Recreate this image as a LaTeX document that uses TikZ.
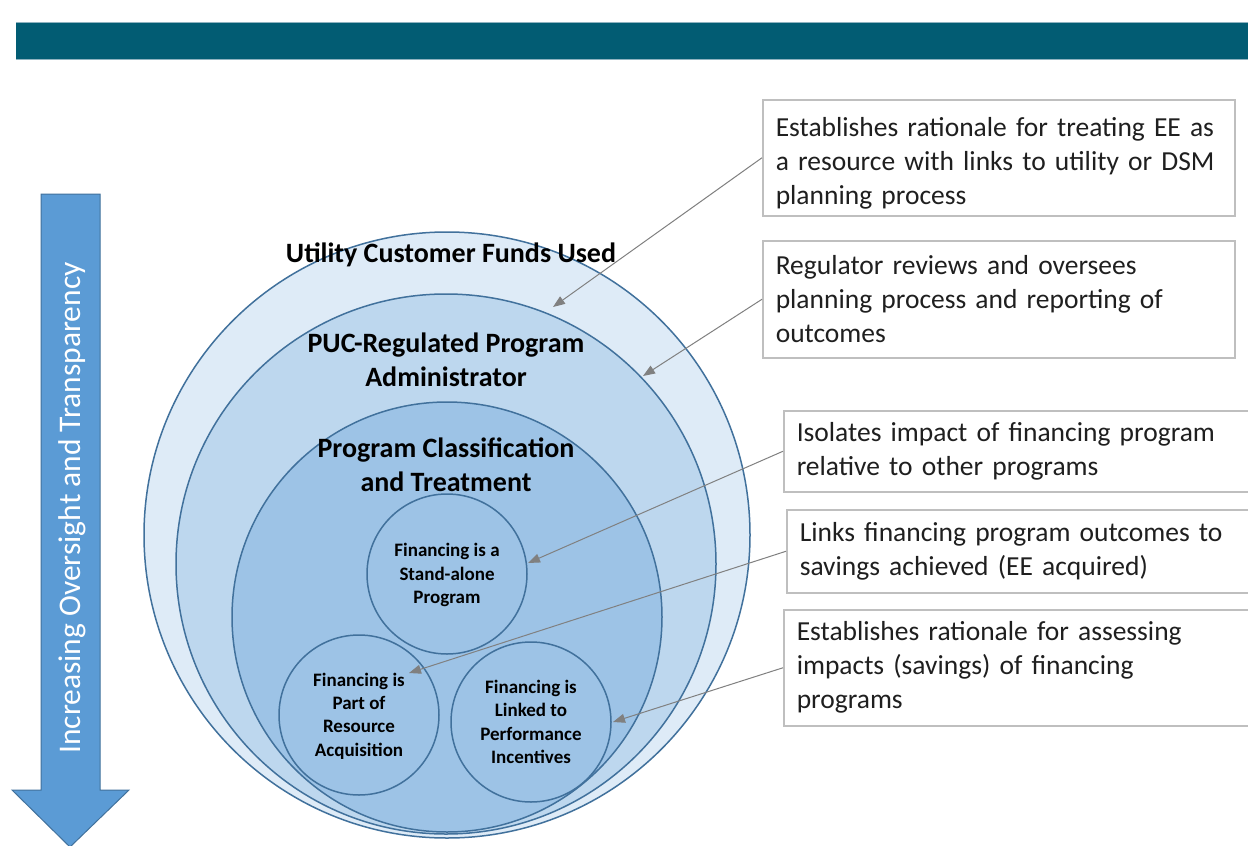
\documentclass[tikz,border=0pt]{standalone}
\usepackage{fontspec}
\setmainfont{Carlito}
\usetikzlibrary{arrows.meta}
\definecolor{barc}{HTML}{025C73}
\definecolor{barl}{HTML}{8FB3C0}
\definecolor{ringc}{HTML}{41719C}
\definecolor{fillA}{HTML}{DEEBF7}
\definecolor{fillB}{HTML}{BDD7EE}
\definecolor{fillC}{HTML}{9DC3E6}
\definecolor{arrowc}{HTML}{5B9BD5}
\definecolor{boxgray}{HTML}{BFBFBF}
\definecolor{connc}{HTML}{808080}
\tikzset{
  ring/.style={circle, draw=ringc, line width=1.5pt, inner sep=0pt, minimum size=#1},
  biglbl/.style={align=center, font=\fontsize{28}{34}\selectfont\bfseries, inner sep=0pt},
  smalllbl/.style={align=center, font=\fontsize{19}{23.3}\selectfont\bfseries, inner sep=0pt},
  note/.style={draw=boxgray, line width=1.5pt, fill=white, anchor=north west, align=left,
    font=\fontsize{27.5}{34}\selectfont, text=black!88, inner xsep=13pt, inner ysep=0pt},
  conn/.style={draw=connc, line width=1pt, -{Triangle[length=12pt,width=9pt]}}
}
\begin{document}
\begin{tikzpicture}[x=1pt,y=-1pt]
\clip (0,0) rectangle (1248,846);
\fill[white] (0,0) rectangle (1248,846);
% top bar
\fill[barc] (16,23) rectangle (1250,59);
\draw[barl, line width=1pt] (16,22.5) -- (1250,22.5);
\draw[barl, line width=1pt] (16,59.5) -- (1250,59.5);
% left arrow
\draw[fill=arrowc, draw=ringc, line width=1pt] (41,194) -- (100,194) -- (100,790) -- (129,790) -- (70,847) -- (12,790) -- (41,790) -- cycle;
\node[rotate=90, text=white, font=\fontsize{31.5}{36}\selectfont, inner sep=0pt] (arrowtxt) at (72,508) {Increasing Oversight and Transparency};
% circles
\node[ring=606pt, fill=fillA] (c1) at (447,535) {};
\node[ring=540pt, fill=fillB] (c2) at (446,564) {};
\node[ring=430pt, fill=fillC] (c3) at (447,617) {};
\node[ring=160pt, fill=fillC] (s1) at (447,574) {};
\node[ring=160pt, fill=fillC] (s2) at (359,715) {};
\node[ring=160pt, fill=fillC] (s3) at (531,722) {};
% labels
\node[biglbl] (l1) at (451,255) {Utility Customer Funds Used};
\node[biglbl] (l2) at (446,360) {PUC-Regulated Program\\Administrator};
\node[biglbl] (l3) at (446,465) {Program Classification\\and Treatment};
\node[smalllbl] (ls1) at (447,575) {Financing is a\\Stand-alone\\Program};
\node[smalllbl] (ls2) at (359,716) {Financing is\\Part of\\Resource\\Acquisition};
\node[smalllbl] (ls3) at (531,722) {Financing is\\Linked to\\Performance\\Incentives};
% notes
\node[note, text width=446pt, minimum height=116pt] (b1) at (762,99) {\rule{0pt}{30pt}\mbox{Establishes rationale for treating EE as}\\\mbox{a resource with links to utility or DSM}\\\mbox{planning process}};
\node[note, text width=446pt, minimum height=117pt] (b2) at (762,240) {\mbox{Regulator reviews and oversees}\\\mbox{planning process and reporting of}\\\mbox{outcomes}};
\node[note, text width=452pt, minimum height=81pt] (b3) at (783,410) {\mbox{Isolates impact of financing program}\\\mbox{relative to other programs}};
\node[note, text width=452pt, minimum height=83pt] (b4) at (786,509) {\mbox{Links financing program outcomes to}\\\mbox{savings achieved (EE acquired)}};
\node[note, text width=452pt, minimum height=116pt] (b5) at (783,609) {\mbox{Establishes rationale for assessing}\\\mbox{impacts (savings) of financing}\\\mbox{programs}};
% targets
\coordinate (t1) at (553,307);
\coordinate (t2) at (643,376);
\coordinate (t3) at (528,563);
\coordinate (t4) at (409,673);
\coordinate (t5) at (613,722);
\draw[conn] (b1.west) -- (t1);
\draw[conn] (b2.west) -- (t2);
\draw[conn] (b3.west) -- (t3);
\draw[conn] (b4.west) -- (t4);
\draw[conn] (b5.west) -- (t5);
\end{tikzpicture}
\end{document}
